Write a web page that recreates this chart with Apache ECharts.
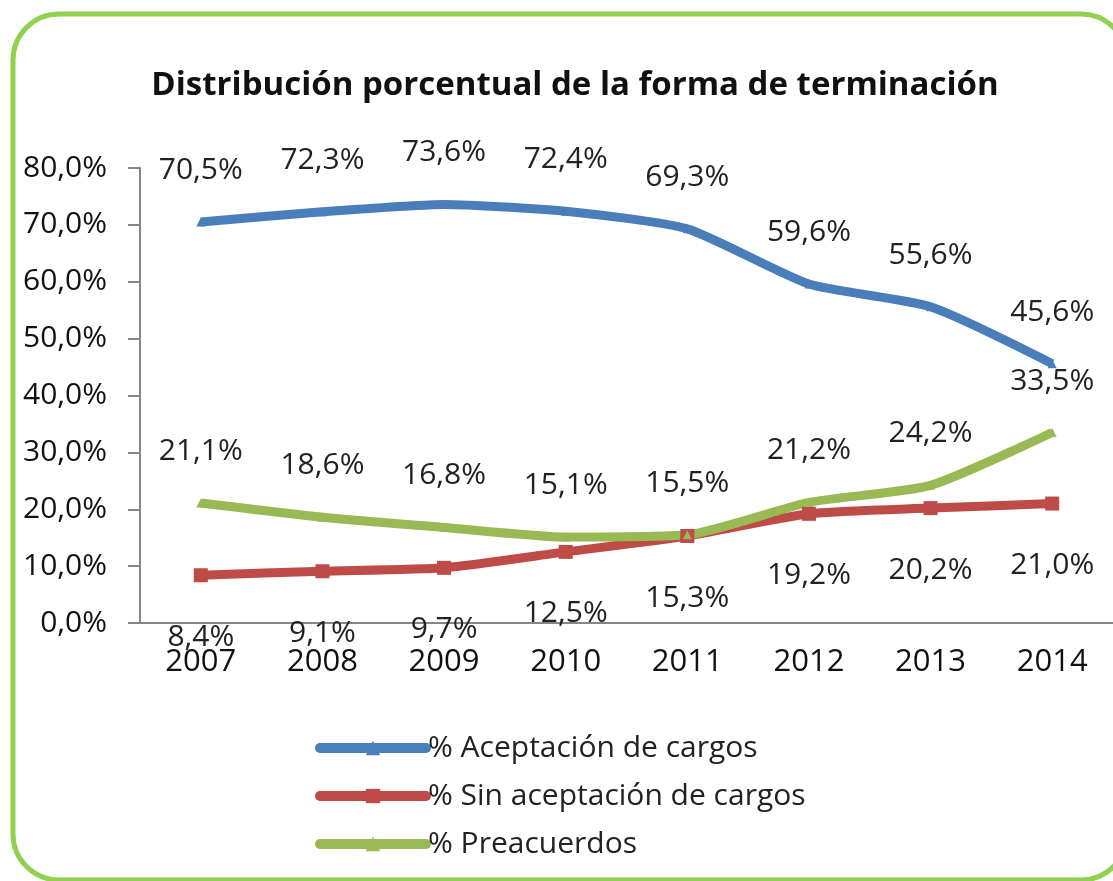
<!DOCTYPE html>
<html lang="es">
<head>
    <meta charset="UTF-8">
    <title>Distribución porcentual</title>
    <script src="https://cdn.jsdelivr.net/npm/echarts@6/dist/echarts.min.js"></script>
    <style>
        html, body { margin: 0; padding: 0; background: #fff; }
        #box { width: 1113px; height: 881px; }
    </style>
</head>
<body>
<div id="box"></div>
<script>
    // datos
    var years = ['2007', '2008', '2009', '2010', '2011', '2012', '2013', '2014'];
    var aceptacion = [70.5, 72.3, 73.6, 72.4, 69.3, 59.6, 55.6, 45.6];
    var sinAceptacion = [8.4, 9.1, 9.7, 12.5, 15.3, 19.2, 20.2, 21.0];
    var preacuerdos = [21.1, 18.6, 16.8, 15.1, 15.5, 21.2, 24.2, 33.5];

    var FONT = 'Open Sans';
    function pct(v) {
        return Number(v).toFixed(1).replace('.', ',') + '%';
    }
    function lbl(pos, dist) {
        return { show: true, position: pos, distance: dist, fontFamily: FONT, fontSize: 30, color: '#222',
            formatter: function (p) { return pct(p.value); } };
    }

    var myChart = echarts.init(document.getElementById('box'));
    var option = {
        backgroundColor: '#fff',
        animation: false,
        title: {
            text: 'Distribución porcentual de la forma de terminación',
            left: 570,
            textAlign: 'center',
            top: 64,
            textStyle: { fontFamily: FONT, fontSize: 33, fontWeight: 'bold', color: '#111' }
        },
        //marco redondeado verde
        graphic: [{
            type: 'rect',
            silent: true,
            z: 100,
            shape: { x: 13, y: 14, width: 1114, height: 866, r: 46 },
            style: { fill: null, stroke: '#92D050', lineWidth: 5 }
        }],
        legend: {
            orient: 'vertical',
            left: 310,
            top: 726,
            itemWidth: 106,
            itemHeight: 18,
            itemGap: 14,
            lineStyle: { width: 10, cap: 'round' },
            textStyle: { fontFamily: FONT, fontSize: 30, color: '#222', lineHeight: 34, padding: [0, 0, 0, -3] },
            data: ['% Aceptación de cargos', '% Sin aceptación de cargos', '% Preacuerdos']
        },
        grid: { left: 140, top: 168, width: 976, bottom: 258 },
        xAxis: {
            type: 'category',
            data: years,
            axisLine: { lineStyle: { color: '#868686', width: 2 } },
            axisTick: { length: 8, lineStyle: { color: '#868686', width: 2 } },
            axisLabel: { margin: 24, fontFamily: FONT, fontSize: 31, color: '#111' }
        },
        yAxis: {
            type: 'value',
            min: 0,
            max: 80,
            interval: 10,
            splitLine: { show: false },
            axisLine: { show: true, lineStyle: { color: '#868686', width: 2 } },
            axisTick: { show: true, length: 12, lineStyle: { color: '#868686', width: 2 } },
            axisLabel: { margin: 33, fontFamily: FONT, fontSize: 30, color: '#111', formatter: pct }
        },
        series: [{
            name: '% Aceptación de cargos',
            type: 'line',
            data: aceptacion,
            smooth: 0.2,
            symbol: 'triangle',
            symbolSize: 9,
            color: '#4A7EBB',
            lineStyle: { width: 9, color: '#4A7EBB' },
            label: lbl('top', 32)
        }, {
            name: '% Sin aceptación de cargos',
            type: 'line',
            data: sinAceptacion,
            smooth: 0.2,
            symbol: 'rect',
            symbolSize: 14,
            color: '#BE4B48',
            lineStyle: { width: 9, color: '#BE4B48' },
            label: lbl('bottom', 40)
        }, {
            name: '% Preacuerdos',
            type: 'line',
            data: preacuerdos,
            smooth: 0.2,
            symbol: 'triangle',
            symbolSize: 9,
            color: '#98B954',
            lineStyle: { width: 9, color: '#98B954' },
            label: lbl('top', 32)
        }]
    };
    myChart.setOption(option);
</script>
</body>
</html>
